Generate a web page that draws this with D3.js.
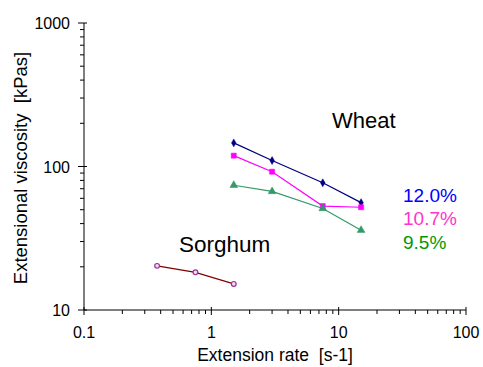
<!DOCTYPE html>
<html>
<head>
<meta charset="utf-8">
<script src="https://cdn.jsdelivr.net/npm/d3@7"></script>
<style>
  body { margin: 0; background: #fff; }
  text { font-family: Arial, "Liberation Sans", sans-serif; white-space: pre; }
</style>
</head>
<body>
<svg id="chart" width="483" height="367"></svg>
<script>
// extension rate [s-1]
const wheatRate = [1.5, 3, 7.5, 15];
const sorghumRate = [0.375, 0.75, 1.5];

// extensional viscosity [kPas]
const wheat120 = [146, 110, 77, 56];
const wheat107 = [119, 92, 53, 52];
const wheat95 = [74, 67, 51, 36];
const sorghum = [20.3, 18.3, 15.2];

const xTickLabels = ["0.1", "1", "10", "100"];
const yTickLabels = ["10", "100", "1000"];

const svg = d3.select("#chart");

const x = d3.scaleLog().domain([0.1, 100]).range([84, 466]);
const y = d3.scaleLog().domain([10, 1000]).range([310, 23]);

// minor tick values for each decade
function minors(lo, hi) {
    let out = [];
    for (let d = lo; d < hi; d *= 10) {
        for (let k = 2; k <= 9; k++) out.push(d * k);
    }
    return out;
}

let axisX = svg.append("g").attr("transform", "translate(0,310)");
axisX.append("line").attr("x1", x(0.1)).attr("x2", x(100))
    .attr("stroke", "#000").attr("stroke-width", 1);
axisX.selectAll(".mn").data(minors(0.1, 100)).enter().append("line")
    .attr("x1", d => x(d)).attr("x2", d => x(d))
    .attr("y1", 0).attr("y2", 4)
    .attr("stroke", "#000");
axisX.selectAll(".mj").data(xTickLabels).enter().append("line")
    .attr("x1", d => x(+d)).attr("x2", d => x(+d))
    .attr("y1", -3).attr("y2", 5)
    .attr("stroke", "#000");
axisX.selectAll(".lb").data(xTickLabels).enter().append("text")
    .attr("x", d => x(+d)).attr("y", 28)
    .attr("text-anchor", "middle")
    .style("font-size", "16px")
    .text(d => d);

let axisY = svg.append("g");
axisY.append("line").attr("x1", 84).attr("x2", 84)
    .attr("y1", y(10)).attr("y2", y(1000))
    .attr("stroke", "#000");
axisY.selectAll(".mn").data(minors(10, 1000)).enter().append("line")
    .attr("x1", 80).attr("x2", 84)
    .attr("y1", d => y(d)).attr("y2", d => y(d))
    .attr("stroke", "#000");
axisY.selectAll(".mj").data(yTickLabels).enter().append("line")
    .attr("x1", 78).attr("x2", 87)
    .attr("y1", d => y(+d)).attr("y2", d => y(+d))
    .attr("stroke", "#000");
axisY.selectAll(".lb").data(yTickLabels).enter().append("text")
    .attr("x", 70).attr("y", d => y(+d) + 6)
    .attr("text-anchor", "end")
    .style("font-size", "16px")
    .text(d => d);

svg.append("text")
    .attr("x", 275).attr("y", 361)
    .attr("text-anchor", "middle")
    .style("font-size", "17.5px")
    .text("Extension rate  [s-1]");

svg.append("text")
    .attr("transform", "translate(27,168) rotate(-90)")
    .attr("text-anchor", "middle")
    .style("font-size", "18.5px")
    .text("Extensional viscosity  [kPas]");

const line = d3.line().x(d => x(d[0])).y(d => y(d[1]));

const series = [
    {rate: wheatRate, vals: wheat120, color: "#000080", shape: d3.symbolDiamond, size: 18, fill: "#000080", stroke: "#000080"},
    {rate: wheatRate, vals: wheat107, color: "#ff00ff", shape: d3.symbolSquare, size: 26, fill: "#ff00ff", stroke: "#ff00ff"},
    {rate: wheatRate, vals: wheat95, color: "#339966", shape: d3.symbolTriangle, size: 26, fill: "#339966", stroke: "#339966"},
    {rate: sorghumRate, vals: sorghum, color: "#800000", shape: d3.symbolCircle, size: 18, fill: "#f0d8f0", stroke: "#993399"}
];

series.forEach(s => {
    let pts = s.rate.map((r, i) => [r, s.vals[i]]);
    svg.append("path").datum(pts)
        .attr("d", line)
        .attr("fill", "none")
        .attr("stroke", s.color)
        .attr("stroke-width", 1.2);
    svg.selectAll(null).data(pts).enter().append("path")
        .attr("transform", d => "translate(" + x(d[0]) + "," + y(d[1]) + ")")
        .attr("d", d3.symbol().type(s.shape).size(s.size))
        .attr("fill", s.fill)
        .attr("stroke", s.stroke)
        .attr("stroke-width", s.shape === d3.symbolCircle ? 1.2 : 0.5);
});

svg.append("text").attr("x", 332).attr("y", 128)
    .style("font-size", "22px").text("Wheat");
svg.append("text").attr("x", 179).attr("y", 252)
    .style("font-size", "22.5px").text("Sorghum");

const labels = [["12.0%", "#0000ff", 201.5], ["10.7%", "#ff33cc", 224.5], ["9.5%", "#009900", 248.5]];
svg.selectAll(".pct").data(labels).enter().append("text")
    .attr("x", 403).attr("y", d => d[2])
    .attr("fill", d => d[1])
    .style("font-size", "19px")
    .text(d => d[0]);
</script>
</body>
</html>
